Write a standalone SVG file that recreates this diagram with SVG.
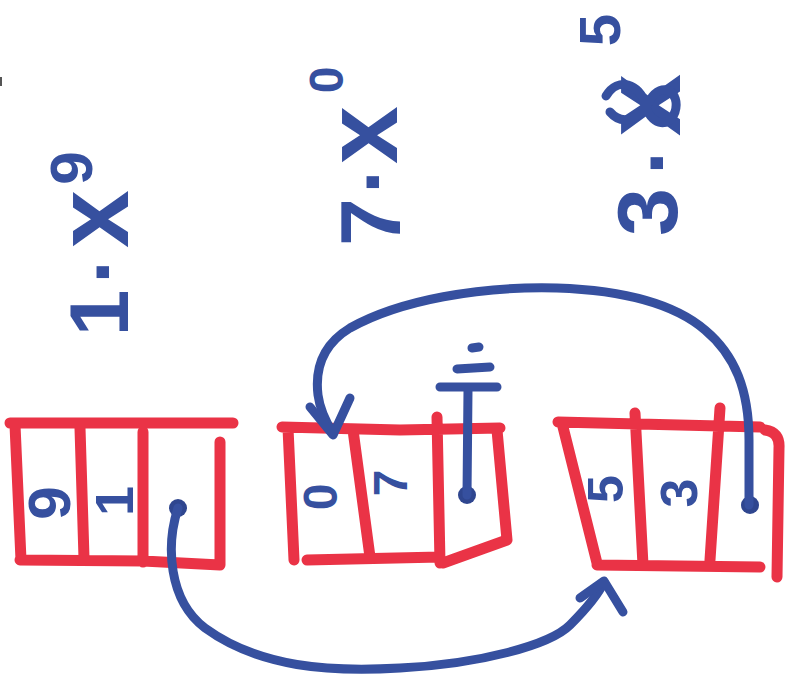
<svg xmlns="http://www.w3.org/2000/svg" width="785" height="687" viewBox="0 0 785 687">
  <style>
    .box { fill: none; stroke: #ea3346; stroke-width: 11; stroke-linecap: round; stroke-linejoin: round; }
    .ink { fill: none; stroke: #36509f; stroke-width: 9; stroke-linecap: round; stroke-linejoin: round; }
    .dot { fill: #2f468f; }
    .hand { font-family: "Liberation Sans", "DejaVu Sans", sans-serif; font-weight: bold; fill: #36509f; text-anchor: middle; }
  </style>

  <rect x="0" y="77" width="2" height="9" fill="#555"/>

  <!-- floating value labels, written sideways -->
  <g id="label-1">
    <text class="hand" transform="rotate(-90)">
      <tspan x="-313" y="128" font-size="84">1</tspan><tspan x="-272" y="109" font-size="84">.</tspan><tspan x="-219" y="128" font-size="104">x</tspan><tspan x="-168" y="92" font-size="60">9</tspan>
    </text>
  </g>
  <g id="label-2">
    <text class="hand" transform="rotate(-90)">
      <tspan x="-222" y="400" font-size="86">7</tspan><tspan x="-182" y="379" font-size="84">.</tspan><tspan x="-135" y="397" font-size="104">x</tspan><tspan x="-80" y="343" font-size="48">0</tspan>
    </text>
  </g>
  <g id="label-3">
    <text class="hand" transform="rotate(-90)">
      <tspan x="-212" y="677" font-size="86">3</tspan><tspan x="-163" y="663" font-size="84">.</tspan><tspan x="-105" y="680" font-size="112">x</tspan><tspan x="-30" y="620" font-size="58">5</tspan>
    </text>
    <path class="ink" stroke-width="7" d="M606,96 C618,76 640,84 645,104 C650,124 668,130 675,112 C681,92 662,80 650,100 C640,120 622,126 610,112"/>
  </g>

  <!-- list node: 9 | 1 | next -->
  <g id="node-1">
    <path class="box" d="M10,423 L233,423 M15,425 L21,560 M20,560 L143,561 L220,565 M220,442 L220,565 M80,428 L84,558 M143,432 L143,562"/>
    <text class="hand" transform="rotate(-90)"><tspan x="-503" y="70" font-size="60">9</tspan><tspan x="-501" y="133" font-size="54">1</tspan></text>
    <circle class="dot" cx="178" cy="508" r="9"/>
  </g>

  <!-- list node: 0 | 7 | null -->
  <g id="node-2">
    <path class="box" d="M282,427 L400,430 L500,428 M288,428 L294,560 M307,560 L440,557 M443,563 L507,540 M497,430 L507,540 M353,430 L370,557 M437,417 L440,563"/>
    <text class="hand" transform="rotate(-90)"><tspan x="-497" y="337" font-size="48">0</tspan><tspan x="-483" y="407" font-size="48">7</tspan></text>
    <circle class="dot" cx="467" cy="495" r="9"/>
  </g>

  <!-- list node: 5 | 3 | next -->
  <g id="node-3">
    <path class="box" d="M558,422 L760,427 M765,430 Q780,432 779,448 L777,577 M562,423 L597,563 M597,565 L760,567 M635,413 L643,565 M720,408 L710,560"/>
    <text class="hand" transform="rotate(-90)"><tspan x="-489" y="623" font-size="50">5</tspan><tspan x="-493" y="697" font-size="52">3</tspan></text>
    <circle class="dot" cx="750" cy="505" r="9"/>
  </g>

  <!-- pointers -->
  <g id="connectors">
    <path class="ink" d="M178,508 C166,545 168,600 205,628 C260,668 330,672 400,668 C480,664 550,645 570,625 C588,607 598,595 604,582"/>
    <path class="ink" d="M580,598 L604,581 L623,612"/>

    <path class="ink" d="M749,505 L749,440 C749,390 735,355 705,330 C670,300 615,290 557,288 C480,286 400,300 350,328 C322,345 315,370 318,395 C320,410 326,422 333,433"/>
    <path class="ink" d="M310,407 L333,435 L350,398"/>

    <path class="ink" d="M467,495 L468,390 M440,387 L497,387 M457,369 L490,367 M472,348 L479,347"/>
  </g>
</svg>
